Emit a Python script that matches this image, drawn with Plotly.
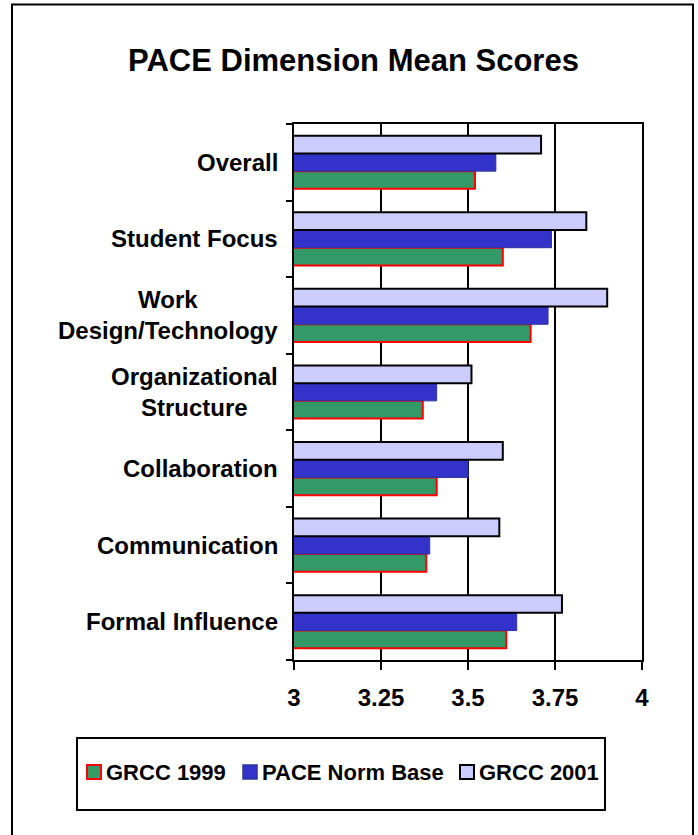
import plotly.graph_objects as go

# ---------------- data ----------------
categories = ["Overall", "Student Focus", "Work<br>Design/Technology",
              "Organizational<br>Structure", "Collaboration", "Communication",
              "Formal Influence"]
series_names = ["GRCC 1999", "PACE Norm Base", "GRCC 2001"]
grcc_1999 = [3.52, 3.60, 3.68, 3.37, 3.41, 3.38, 3.61]
pace_norm = [3.58, 3.74, 3.73, 3.41, 3.50, 3.39, 3.64]
grcc_2001 = [3.71, 3.84, 3.90, 3.51, 3.60, 3.59, 3.77]
x_ticks = [3, 3.25, 3.5, 3.75, 4]
title_text = "PACE Dimension Mean Scores"

# ---------------- style ----------------
FONT = "Liberation Sans, Arial, Helvetica, sans-serif"
fills = ["#339966", "#3333CC", "#CCCCFF"]
outlines = ["#FF0000", "#333399", "#000000"]
outline_w = [2, 1, 2]

W_PX, H_PX = 698, 835
ML, MR, MT, MB = 294, 56, 124, 175
PW = W_PX - ML - MR
PH = H_PX - MT - MB


def px_x(p):
    return (p - ML) / PW


def px_y(p):
    return (H_PX - MB - p) / PH


fig = go.Figure()
values = [grcc_1999, pace_norm, grcc_2001]
for name, vals, fc, lc, lw in zip(series_names, values, fills, outlines, outline_w):
    fig.add_trace(go.Bar(
        y=categories, x=vals, name=name, orientation="h",
        marker=dict(color=fc, line=dict(color=lc, width=lw)),
        showlegend=False,
    ))

fig.update_layout(
    width=W_PX, height=H_PX,
    margin=dict(l=ML, r=MR, t=MT, b=MB, pad=0),
    paper_bgcolor="white", plot_bgcolor="white",
    barmode="group", bargap=0.306, bargroupgap=0,
    font=dict(family=FONT, color="black"),
    title=dict(text=title_text, xref="paper", x=px_x(353.5), xanchor="center",
               yref="container", y=1 - 60 / H_PX, yanchor="middle",
               font=dict(family=FONT, size=31, weight="bold", color="black")),
    xaxis=dict(range=[3, 4], tickvals=x_ticks, ticktext=[f"{v:g}" for v in x_ticks],
               showgrid=True, gridcolor="black", gridwidth=2,
               showline=True, linecolor="black", linewidth=2, mirror=True,
               ticks="outside", ticklen=8, tickwidth=2, tickcolor="black",
               ticklabelstandoff=7,
               zeroline=False,
               tickfont=dict(family=FONT, size=24, weight="bold", color="black")),
    yaxis=dict(categoryorder="array", categoryarray=categories[::-1],
               showticklabels=False, showgrid=False, zeroline=False,
               showline=True, linecolor="black", linewidth=2, mirror=True,
               ticks="outside", tickson="boundaries", ticklen=6, tickwidth=2,
               tickcolor="black"),
)

# category labels (centered multi-line, right-aligned block)
for c in categories:
    fig.add_annotation(x=0, xref="paper", y=c, yref="y", text=c,
                       xanchor="right", yanchor="middle", align="center",
                       xshift=-14, showarrow=False,
                       font=dict(family=FONT, size=24, weight="bold", color="black"))

# outer border
fig.add_shape(type="rect", xref="paper", yref="paper",
              x0=px_x(12), x1=px_x(693), y0=px_y(850), y1=px_y(4.5),
              line=dict(color="black", width=2), fillcolor="rgba(0,0,0,0)")

# legend box
fig.add_shape(type="rect", xref="paper", yref="paper",
              x0=px_x(77), x1=px_x(605), y0=px_y(810), y1=px_y(738),
              line=dict(color="black", width=2), fillcolor="rgba(0,0,0,0)")

marker_x = [86, 242, 459]
for name, fc, lc, lw, mx in zip(series_names, fills, outlines, outline_w, marker_x):
    fig.add_shape(type="rect", xref="paper", yref="paper",
                  x0=px_x(mx + 1), x1=px_x(mx + 15), y0=px_y(779), y1=px_y(765),
                  line=dict(color=lc, width=max(lw, 1.5)), fillcolor=fc)
    fig.add_annotation(x=px_x(mx + 18), xref="paper", y=px_y(772), yref="paper",
                       text=name, xanchor="left", yanchor="middle", showarrow=False,
                       font=dict(family=FONT, size=22, weight="bold", color="black"))

fig.write_html("out.html")
